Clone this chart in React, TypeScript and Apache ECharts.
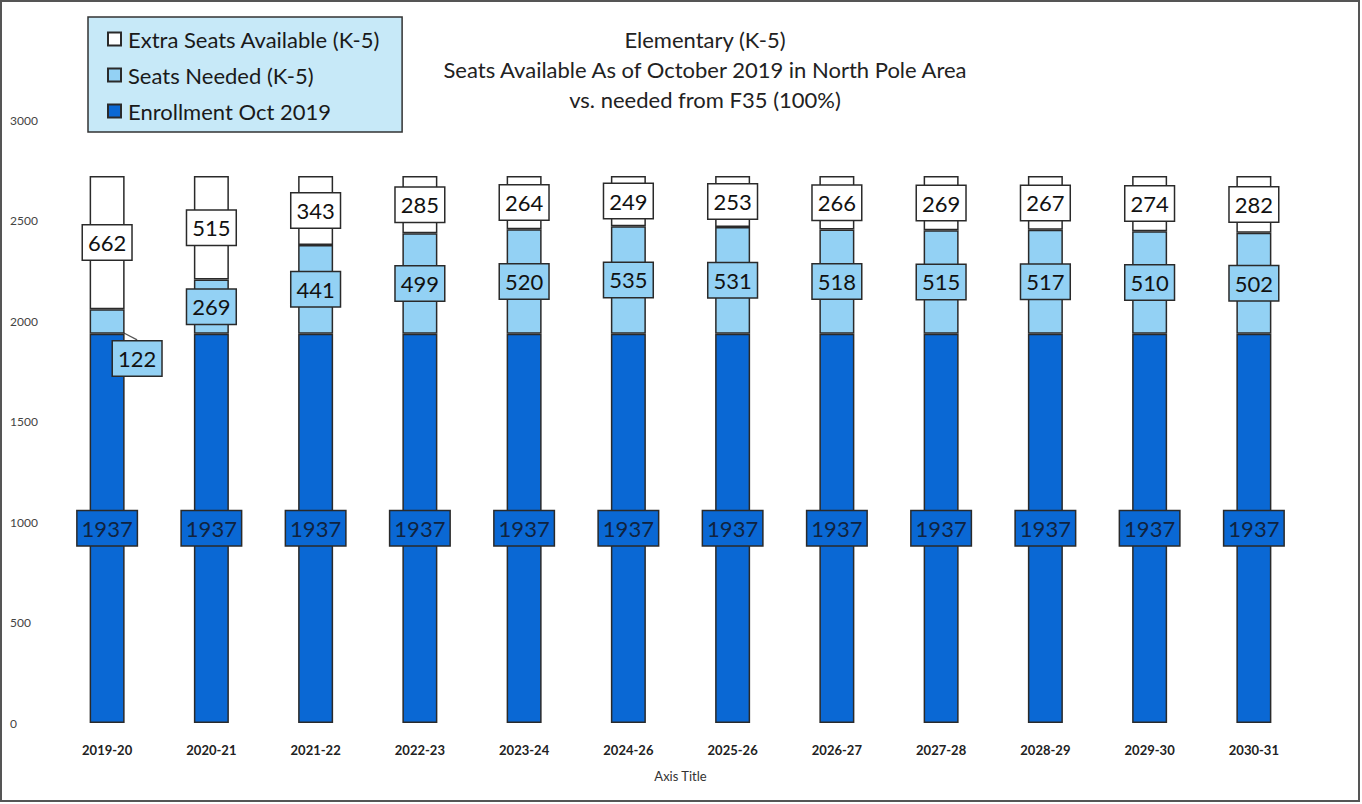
import React, { useEffect, useRef } from "react";
import * as echarts from "echarts";

const categories = ["2019-20", "2020-21", "2021-22", "2022-23", "2023-24", "2024-26", "2025-26", "2026-27", "2027-28", "2028-29", "2029-30", "2030-31"];
const enrollment = [1937, 1937, 1937, 1937, 1937, 1937, 1937, 1937, 1937, 1937, 1937, 1937];
const seatsNeeded = [122, 269, 441, 499, 520, 535, 531, 518, 515, 517, 510, 502];
const extraSeats = [662, 515, 343, 285, 264, 249, 253, 266, 269, 267, 274, 282];
const yTicks = [0, 500, 1000, 1500, 2000, 2500, 3000];
const titleLines = ["Elementary (K-5)", "Seats Available As of October 2019 in North Pole Area", "vs. needed from F35 (100%)"];

const FONT = "Lato, 'Open Sans', sans-serif";
const DARK = "#0a68d4";
const LIGHT = "#93d1f4";

export default function App() {
  const ref = useRef<HTMLDivElement>(null);
  useEffect(() => {
    const chart = echarts.init(ref.current!, null, { renderer: "svg" });
    const barBorder = { borderColor: "#2a2a2a", borderWidth: 1.5 };
    const boxLabel = (bg: string, color: string) => ({
      show: true,
      position: "inside",
      fontFamily: FONT,
      fontSize: 22,
      color,
      backgroundColor: bg,
      borderColor: "#2a2a2a",
      borderWidth: 1.5,
      padding: [7, 5, 5, 5],
    });
    chart.setOption({
      animation: false,
      backgroundColor: "#ffffff",
      textStyle: { fontFamily: FONT },
      title: {
        text: titleLines.join("\n"),
        left: 700,
        top: 19,
        textAlign: "center",
        textStyle: { fontFamily: FONT, fontSize: 22, fontWeight: "normal", color: "#222", lineHeight: 30 },
      },
      legend: {
        orient: "vertical",
        left: 88,
        top: 17,
        data: ["Extra Seats Available (K-5)", "Seats Needed (K-5)", "Enrollment Oct 2019"],
        icon: "rect",
        backgroundColor: "#c7e9f8",
        borderColor: "#333",
        borderWidth: 1.5,
        padding: [11, 22, 10, 19],
        itemWidth: 13,
        itemHeight: 13,
        itemGap: 14,
        textStyle: { fontFamily: FONT, fontSize: 22, color: "#1a1a1a", padding: [0, 0, 0, 2] },
      },
      grid: { left: 55, right: 56, top: 120, bottom: 81 },
      xAxis: {
        type: "category",
        data: categories,
        name: "Axis Title",
        nameLocation: "middle",
        nameGap: 46,
        nameTextStyle: { fontFamily: FONT, fontSize: 13, color: "#333" },
        axisLine: { show: false },
        axisTick: { show: false },
        axisLabel: { fontFamily: FONT, fontSize: 13, fontWeight: "bold", color: "#222", margin: 20 },
      },
      yAxis: {
        type: "value",
        min: 0,
        max: 3000,
        interval: 500,
        splitLine: { show: false },
        axisLine: { show: false },
        axisTick: { show: false },
        axisLabel: {
          fontFamily: FONT,
          fontSize: 12,
          color: "#444",
          align: "left",
          margin: 45,
          formatter: (v: number) => (yTicks.includes(v) ? String(v) : ""),
        },
      },
      series: [
        {
          name: "Enrollment Oct 2019",
          type: "bar",
          stack: "s",
          barWidth: 35,
          data: enrollment,
          itemStyle: { color: DARK, ...barBorder },
          label: { ...boxLabel(DARK, "#10233f"), padding: [7, 4, 5, 4] },
        },
        {
          name: "Seats Needed (K-5)",
          type: "bar",
          stack: "s",
          barWidth: 35,
          data: seatsNeeded.map((v, i) =>
            i === 0 ? { value: v, labelLine: { show: true, lineStyle: { color: "#555", width: 1.2 } } } : v
          ),
          itemStyle: { color: LIGHT, ...barBorder },
          label: boxLabel(LIGHT, "#111"),
          labelLayout: (p: any) => (p.dataIndex === 0 ? { dx: 30, dy: 37 } : {}),
        },
        {
          name: "Extra Seats Available (K-5)",
          type: "bar",
          stack: "s",
          barWidth: 35,
          data: extraSeats,
          itemStyle: { color: "#ffffff", ...barBorder },
          label: boxLabel("#ffffff", "#111"),
        },
      ],
      graphic: [
        {
          type: "rect",
          shape: { x: 1, y: 1, width: 1358, height: 800 },
          style: { fill: "none", stroke: "#555", lineWidth: 2 },
          silent: true,
        },
      ],
    });
    return () => chart.dispose();
  }, []);
  return <div ref={ref} style={{ position: "fixed", left: 0, top: 0, width: 1362, height: 804 }} />;
}
